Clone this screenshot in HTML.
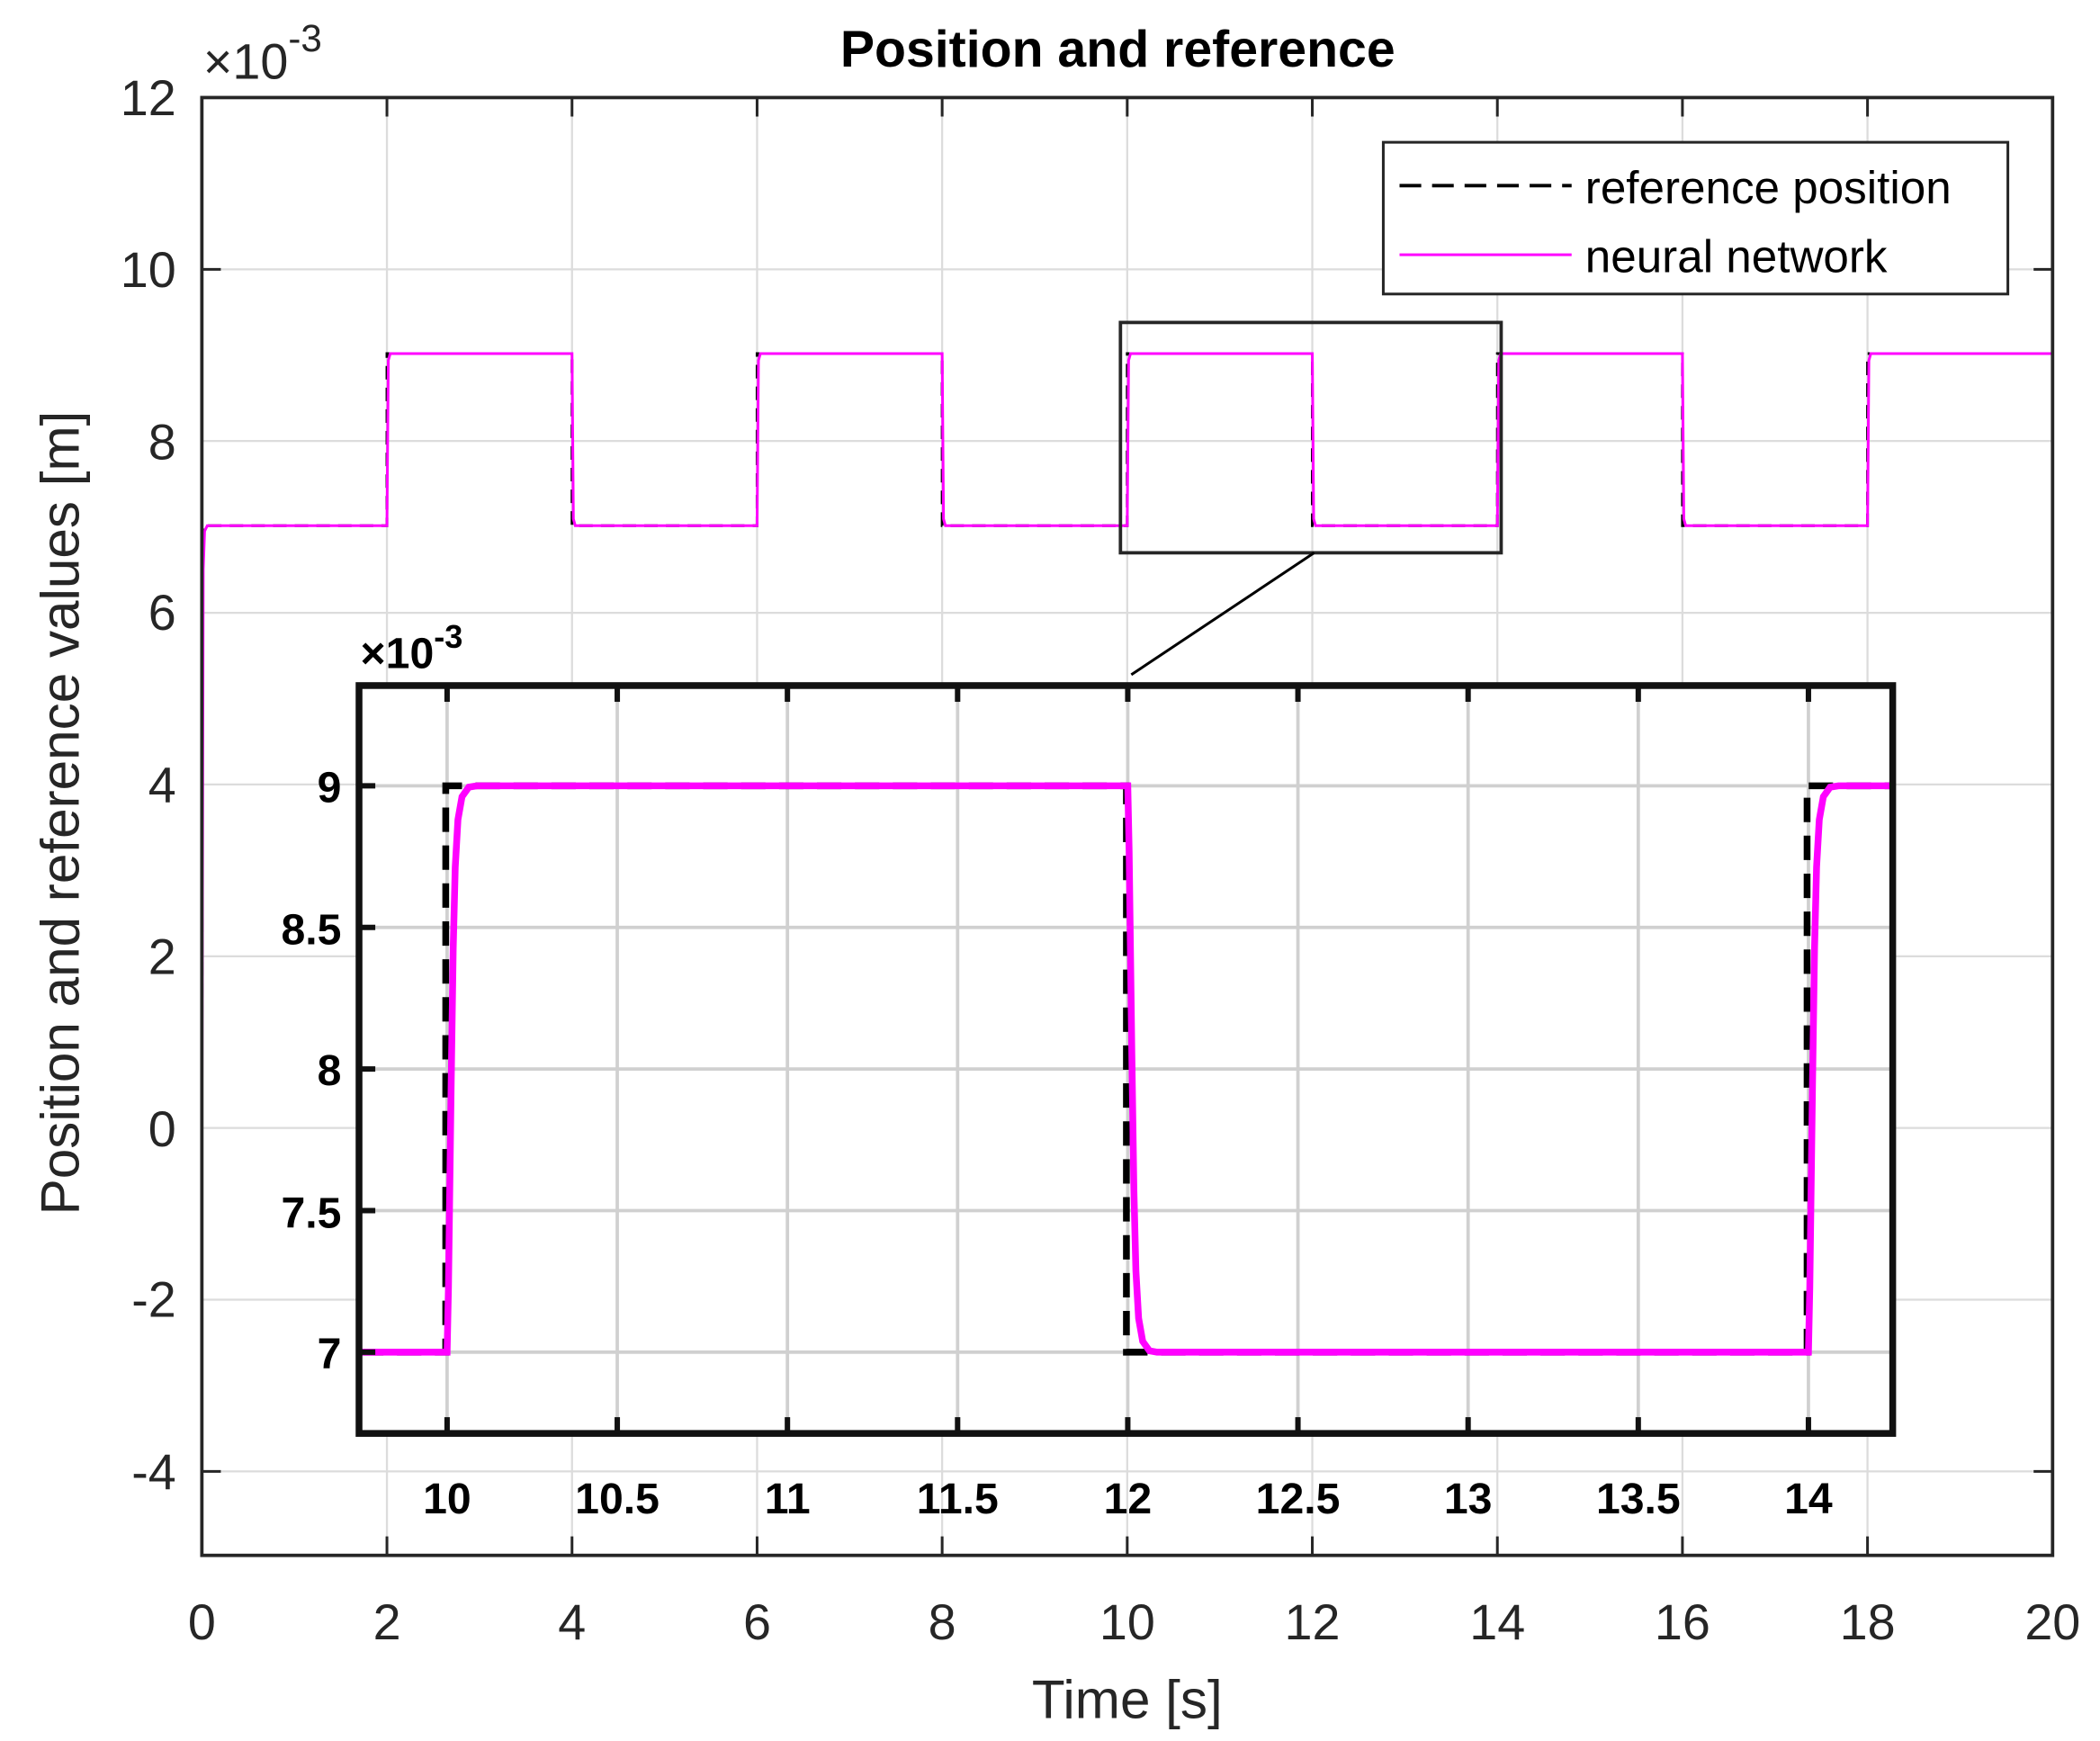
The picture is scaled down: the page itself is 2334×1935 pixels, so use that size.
<!DOCTYPE html>
<html><head><meta charset="utf-8"><style>
html,body{margin:0;padding:0;background:#fff;}
svg{display:block;}
text{font-family:"Liberation Sans",Arial,sans-serif;}
</style></head><body>
<svg width="2334" height="1935" viewBox="0 0 1550 1285" xmlns="http://www.w3.org/2000/svg">
<rect width="1550" height="1285" fill="#fff"/>
<g stroke="#dcdcdc" stroke-width="1.5">
<line x1="285.6" y1="72" x2="285.6" y2="1148"/><line x1="422.2" y1="72" x2="422.2" y2="1148"/>
<line x1="558.8" y1="72" x2="558.8" y2="1148"/><line x1="695.4" y1="72" x2="695.4" y2="1148"/>
<line x1="832" y1="72" x2="832" y2="1148"/><line x1="968.6" y1="72" x2="968.6" y2="1148"/>
<line x1="1105.2" y1="72" x2="1105.2" y2="1148"/><line x1="1241.8" y1="72" x2="1241.8" y2="1148"/>
<line x1="1378.4" y1="72" x2="1378.4" y2="1148"/>
<line x1="149" y1="198.8" x2="1515" y2="198.8"/><line x1="149" y1="325.5" x2="1515" y2="325.5"/>
<line x1="149" y1="452.3" x2="1515" y2="452.3"/><line x1="149" y1="579" x2="1515" y2="579"/>
<line x1="149" y1="705.8" x2="1515" y2="705.8"/><line x1="149" y1="832.5" x2="1515" y2="832.5"/>
<line x1="149" y1="959.3" x2="1515" y2="959.3"/><line x1="149" y1="1086" x2="1515" y2="1086"/>
</g>
<polyline fill="none" stroke="#000" stroke-width="2" stroke-dasharray="10,6" points="149,832 149.5,388 285.6,388 285.6,261 422.2,261 422.2,388 558.8,388 558.8,261 695.4,261 695.4,388 832,388 832,261 968.6,261 968.6,388 1105.2,388 1105.2,261 1241.8,261 1241.8,388 1378.4,388 1378.4,261 1515,261"/>
<polyline fill="none" stroke="#ff00ff" stroke-width="2" points="149,832 150,420 151,392 153,388 285.6,388 286.6,266 288,261 422.2,261 423.2,383 424.6,388 558.8,388 559.8,266 561.2,261 695.4,261 696.4,383 697.8,388 832,388 833,266 834.4,261 968.6,261 969.6,383 971,388 1105.2,388 1106.2,266 1107.6,261 1241.8,261 1242.8,383 1244.2,388 1378.4,388 1379.4,266 1380.8,261 1515,261"/>
<rect x="149" y="72" width="1366" height="1076" fill="none" stroke="#262626" stroke-width="2.5"/>
<g stroke="#262626" stroke-width="2">
<line x1="285.6" y1="72" x2="285.6" y2="86"/><line x1="422.2" y1="72" x2="422.2" y2="86"/><line x1="558.8" y1="72" x2="558.8" y2="86"/><line x1="695.4" y1="72" x2="695.4" y2="86"/><line x1="832" y1="72" x2="832" y2="86"/><line x1="968.6" y1="72" x2="968.6" y2="86"/><line x1="1105.2" y1="72" x2="1105.2" y2="86"/><line x1="1241.8" y1="72" x2="1241.8" y2="86"/><line x1="1378.4" y1="72" x2="1378.4" y2="86"/>
<line x1="285.6" y1="1148" x2="285.6" y2="1134"/><line x1="422.2" y1="1148" x2="422.2" y2="1134"/><line x1="558.8" y1="1148" x2="558.8" y2="1134"/><line x1="695.4" y1="1148" x2="695.4" y2="1134"/><line x1="832" y1="1148" x2="832" y2="1134"/><line x1="968.6" y1="1148" x2="968.6" y2="1134"/><line x1="1105.2" y1="1148" x2="1105.2" y2="1134"/><line x1="1241.8" y1="1148" x2="1241.8" y2="1134"/><line x1="1378.4" y1="1148" x2="1378.4" y2="1134"/>
<line x1="149" y1="1086" x2="163" y2="1086"/><line x1="1515" y1="1086" x2="1501" y2="1086"/>
<line x1="149" y1="198.8" x2="163" y2="198.8"/><line x1="1515" y1="198.8" x2="1501" y2="198.8"/>
</g>
<g font-size="37" fill="#262626" text-anchor="middle">
<text x="149" y="1210">0</text><text x="285.6" y="1210">2</text><text x="422.2" y="1210">4</text><text x="558.8" y="1210">6</text><text x="695.4" y="1210">8</text><text x="832" y="1210">10</text><text x="968.6" y="1210">12</text><text x="1105.2" y="1210">14</text><text x="1241.8" y="1210">16</text><text x="1378.4" y="1210">18</text><text x="1515" y="1210">20</text>
</g>
<g font-size="37" fill="#262626" text-anchor="end">
<text x="130" y="85">12</text><text x="130" y="212">10</text><text x="130" y="339">8</text><text x="130" y="465">6</text><text x="130" y="592">4</text><text x="130" y="719">2</text><text x="130" y="846">0</text><text x="130" y="972">-2</text><text x="130" y="1099">-4</text>
</g>
<text x="150" y="58" font-size="37" fill="#262626">×10<tspan font-size="28" dy="-20">-3</tspan></text>
<text x="825" y="49" font-size="38" font-weight="bold" text-anchor="middle" fill="#000">Position and reference</text>
<text x="832" y="1268" font-size="40" text-anchor="middle" fill="#262626">Time [s]</text>
<text transform="translate(58,600) rotate(-90)" font-size="40" text-anchor="middle" fill="#262626">Position and reference values [m]</text>
<rect x="1021" y="105" width="461" height="112" fill="#fff" stroke="#262626" stroke-width="2"/>
<line x1="1033" y1="137" x2="1160" y2="137" stroke="#000" stroke-width="2.5" stroke-dasharray="16,8"/>
<line x1="1033" y1="188" x2="1160" y2="188" stroke="#ff00ff" stroke-width="2"/>
<text x="1170" y="150" font-size="34" fill="#000">reference position</text>
<text x="1170" y="201" font-size="34" fill="#000">neural network</text>
<rect x="827" y="238" width="281" height="170" fill="none" stroke="#262626" stroke-width="2.5"/>
<line x1="970" y1="408" x2="835" y2="498" stroke="#000" stroke-width="2"/>
<rect x="265" y="506" width="1132" height="552" fill="#fff"/>
<g stroke="#d0d0d0" stroke-width="2.5">
<line x1="330" y1="506" x2="330" y2="1058"/><line x1="455.6" y1="506" x2="455.6" y2="1058"/><line x1="581.2" y1="506" x2="581.2" y2="1058"/><line x1="706.8" y1="506" x2="706.8" y2="1058"/><line x1="832.4" y1="506" x2="832.4" y2="1058"/><line x1="958" y1="506" x2="958" y2="1058"/><line x1="1083.6" y1="506" x2="1083.6" y2="1058"/><line x1="1209.2" y1="506" x2="1209.2" y2="1058"/><line x1="1334.8" y1="506" x2="1334.8" y2="1058"/>
<line x1="265" y1="580" x2="1397" y2="580"/><line x1="265" y1="684.5" x2="1397" y2="684.5"/><line x1="265" y1="789" x2="1397" y2="789"/><line x1="265" y1="893.5" x2="1397" y2="893.5"/><line x1="265" y1="998" x2="1397" y2="998"/>
</g>
<polyline fill="none" stroke="#000" stroke-width="5" stroke-dasharray="18,10" points="265,998 329,998 329,580 831.4,580 831.4,998 1333.8,998 1333.8,580 1397,580"/>
<polyline fill="none" stroke="#ff00ff" stroke-width="5" points="265,998 330,998 331,950 333,800 334.5,700 336,640 338,605 341,588 346,581 352,580 832.4,580 833.4,628 835.4,778 836.9,878 838.4,938 840.4,973 843.4,990 848.4,997 854,998 1334.8,998 1335.8,950 1337.8,800 1339.3,700 1340.8,640 1342.8,605 1345.8,588 1350.8,581 1357,580 1397,580"/>
<rect x="265" y="506" width="1132" height="552" fill="none" stroke="#111" stroke-width="5"/>
<g stroke="#111" stroke-width="4">
<line x1="330" y1="506" x2="330" y2="518"/><line x1="455.6" y1="506" x2="455.6" y2="518"/><line x1="581.2" y1="506" x2="581.2" y2="518"/><line x1="706.8" y1="506" x2="706.8" y2="518"/><line x1="832.4" y1="506" x2="832.4" y2="518"/><line x1="958" y1="506" x2="958" y2="518"/><line x1="1083.6" y1="506" x2="1083.6" y2="518"/><line x1="1209.2" y1="506" x2="1209.2" y2="518"/><line x1="1334.8" y1="506" x2="1334.8" y2="518"/>
<line x1="330" y1="1058" x2="330" y2="1046"/><line x1="455.6" y1="1058" x2="455.6" y2="1046"/><line x1="581.2" y1="1058" x2="581.2" y2="1046"/><line x1="706.8" y1="1058" x2="706.8" y2="1046"/><line x1="832.4" y1="1058" x2="832.4" y2="1046"/><line x1="958" y1="1058" x2="958" y2="1046"/><line x1="1083.6" y1="1058" x2="1083.6" y2="1046"/><line x1="1209.2" y1="1058" x2="1209.2" y2="1046"/><line x1="1334.8" y1="1058" x2="1334.8" y2="1046"/>
<line x1="265" y1="580" x2="277" y2="580"/><line x1="265" y1="684.5" x2="277" y2="684.5"/><line x1="265" y1="789" x2="277" y2="789"/><line x1="265" y1="893.5" x2="277" y2="893.5"/><line x1="265" y1="998" x2="277" y2="998"/>
</g>
<g font-size="32" font-weight="bold" fill="#000" text-anchor="middle">
<text x="330" y="1117">10</text><text x="455.6" y="1117">10.5</text><text x="581.2" y="1117">11</text><text x="706.8" y="1117">11.5</text><text x="832.4" y="1117">12</text><text x="958" y="1117">12.5</text><text x="1083.6" y="1117">13</text><text x="1209.2" y="1117">13.5</text><text x="1334.8" y="1117">14</text>
</g>
<g font-size="32" font-weight="bold" fill="#000" text-anchor="end">
<text x="252" y="592">9</text><text x="252" y="697">8.5</text><text x="252" y="801">8</text><text x="252" y="906">7.5</text><text x="252" y="1010">7</text>
</g>
<text x="266" y="493" font-size="32" font-weight="bold" fill="#000">×10<tspan font-size="24" dy="-15">-3</tspan></text>
</svg>
</body></html>
